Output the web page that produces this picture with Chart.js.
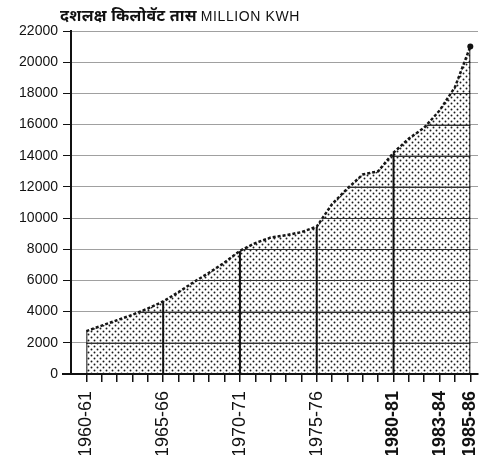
<!DOCTYPE html>
<html>
<head>
<meta charset="utf-8">
<script src="https://cdn.jsdelivr.net/npm/chart.js@4.4.1/dist/chart.umd.min.js"></script>
<style>
  body { margin: 0; background: #fff; }
  #wrap { position: relative; width: 483px; height: 455px; }
  #title { position: absolute; left: 60px; top: 4px; white-space: nowrap; color: #111; }
  #title .mr { font: bold 16px "Noto Sans", "DejaVu Sans", sans-serif; letter-spacing: 0.3px; }
  #title .en { font: 14px "Liberation Sans", sans-serif; letter-spacing: 0.6px; }
</style>
</head>
<body>
<div id="wrap">
  <div id="title"><span class="mr">दशलक्ष किलोवॅट तास</span> <span class="en">MILLION KWH</span></div>
  <canvas id="myChart" width="483" height="455"></canvas>
</div>
<script>
// वर्ष (1960-61 ... 1985-86)
const years = [1960, 1961, 1962, 1963, 1964, 1965, 1966, 1967, 1968, 1969,
               1970, 1971, 1972, 1973, 1974, 1975, 1976, 1977, 1978, 1979,
               1980, 1981, 1982, 1983, 1984, 1985];
// million kwh
const energy = [2750, 3100, 3450, 3800, 4200, 4650, 5250, 5900, 6500, 7150,
                7900, 8400, 8750, 8900, 9100, 9450, 10900, 11900, 12800, 13000,
                14200, 15100, 15800, 16900, 18400, 21000];
// which years get a label
const labelYears = {1960: '1960-61', 1965: '1965-66', 1970: '1970-71', 1975: '1975-76',
                    1980: '1980-81', 1983: '1983-84', 1985: '1985-86'};
const boldYears = [1980, 1983, 1985];
const dividerYears = [1960, 1965, 1970, 1975, 1980, 1985];

// dotted fill
function dotPattern() {
    let tile = document.createElement('canvas');
    tile.width = 6; tile.height = 6;
    let t = tile.getContext('2d');
    t.fillStyle = '#1a1a1a';
    [[1.5, 1.5], [4.5, 4.5]].forEach(p => {
        t.beginPath();
        t.arc(p[0], p[1], 0.95, 0, Math.PI * 2);
        t.fill();
    });
    return t.createPattern(tile, 'repeat');
}

// dark grid inside the area + vertical dividers
const innerLines = {
    id: 'innerLines',
    afterDatasetsDraw(chart) {
        let ctx = chart.ctx;
        let pts = chart.getDatasetMeta(0).data;
        let xs = chart.scales.x, ys = chart.scales.y;
        let bottom = ys.getPixelForValue(0);
        ctx.save();
        ctx.beginPath();
        ctx.moveTo(pts[0].x, bottom);
        pts.forEach(p => ctx.lineTo(p.x, p.y));
        ctx.lineTo(pts[pts.length - 1].x, bottom);
        ctx.closePath();
        ctx.clip();
        ctx.strokeStyle = '#333';
        ctx.lineWidth = 1;
        for (let v = 2000; v <= 22000; v += 2000) {
            let y = Math.round(ys.getPixelForValue(v)) + 0.5;
            ctx.beginPath();
            ctx.moveTo(xs.left, y);
            ctx.lineTo(xs.right, y);
            ctx.stroke();
        }
        ctx.strokeStyle = '#111';
        ctx.lineWidth = 2;
        dividerYears.forEach(yr => {
            let x = xs.getPixelForValue(yr);
            ctx.beginPath();
            ctx.moveTo(x, bottom);
            ctx.lineTo(x, ys.top);
            ctx.stroke();
        });
        ctx.restore();

        // x axis runs a bit left of the y axis
        ctx.save();
        ctx.strokeStyle = '#111';
        ctx.lineWidth = 2;
        ctx.beginPath();
        ctx.moveTo(62, bottom);
        ctx.lineTo(xs.left, bottom);
        ctx.stroke();
        ctx.restore();
    }
};

let ctx = document.getElementById('myChart').getContext('2d');
let pointData = years.map((yr, i) => ({x: yr, y: energy[i]}));

let myChart = new Chart(ctx, {
    type: 'line',
    data: {
        datasets: [{
            data: pointData,
            fill: 'origin',
            backgroundColor: dotPattern(),
            borderColor: '#151515',
            borderWidth: 2.5,
            borderDash: [3, 2],
            tension: 0,
            pointRadius: years.map((yr, i) => i === years.length - 1 ? 3 : 0),
            pointBackgroundColor: '#111',
            pointBorderWidth: 0
        }]
    },
    options: {
        responsive: false,
        animation: false,
        layout: { padding: { top: 31, right: 5, left: 0, bottom: 0 } },
        plugins: {
            legend: { display: false },
            tooltip: { enabled: false }
        },
        scales: {
            x: {
                type: 'linear',
                min: 1959,
                max: 1985.5,
                afterBuildTicks: axis => { axis.ticks = years.map(v => ({value: v})); },
                afterFit: axis => {
                    axis.height = 81;
                    axis.paddingLeft = 0;
                    axis.paddingRight = 0;
                },
                grid: {
                    drawOnChartArea: false,
                    tickLength: 8,
                    tickColor: '#111',
                    lineWidth: 1.5
                },
                border: { color: '#111', width: 2 },
                ticks: {
                    autoSkip: false,
                    maxRotation: 90,
                    minRotation: 90,
                    padding: 9,
                    color: '#111',
                    font: c => ({
                        family: '"Liberation Sans Narrow", "Liberation Sans", sans-serif',
                        size: 18,
                        weight: c.tick && boldYears.includes(c.tick.value) ? 'bold' : 'normal'
                    }),
                    callback: v => labelYears[v] || ''
                }
            },
            y: {
                min: 0,
                max: 22000,
                afterFit: axis => { axis.width = 71; },
                grid: {
                    color: '#a0a0a0',
                    lineWidth: 1,
                    tickLength: 8,
                    tickColor: '#111'
                },
                border: { color: '#111', width: 2 },
                ticks: {
                    stepSize: 2000,
                    padding: 5,
                    color: '#111',
                    font: { family: '"Liberation Sans", sans-serif', size: 14 },
                    callback: v => String(v)
                }
            }
        }
    },
    plugins: [innerLines]
});
</script>
</body>
</html>
